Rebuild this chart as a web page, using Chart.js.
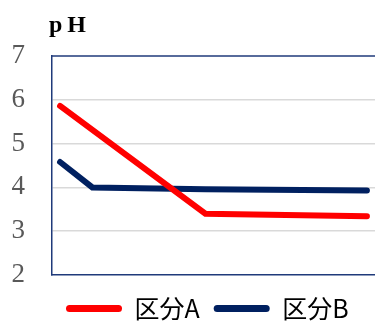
<!DOCTYPE html>
<html>
<head>
<meta charset="utf-8">
<script src="https://cdn.jsdelivr.net/npm/chart.js@4"></script>
<style>
  html, body { margin: 0; padding: 0; background: #fff; overflow: hidden; }
  #wrap { position: relative; width: 375px; height: 325px; }
  #unit {
    position: absolute; left: 49px; top: 11px;
    font: bold 24px "Liberation Serif", "DejaVu Serif", serif;
    letter-spacing: 5px; color: #000;
  }
</style>
</head>
<body>
<div id="wrap">
  <canvas id="c" width="375" height="325"></canvas>
  <div id="unit">pH</div>
</div>
<script>
// pH readings over elapsed time for each section
const seriesNames = ['区分A', '区分B'];
const timeA = [0, 9, 19];
const phA = [5.86, 3.40, 3.34];
const timeB = [0, 2, 9, 19];
const phB = [4.58, 4.00, 3.96, 3.93];
const yTicks = [2, 3, 4, 5, 6, 7];

const colorA = '#ff0000';
const colorB = '#002060';
const frameColor = '#1f3a7a';

const toPoints = (xs, ys) => xs.map((x, i) => ({ x, y: ys[i] }));

// draws the top edge of the plot frame
const topFrame = {
  id: 'topFrame',
  afterDraw(chart) {
    const { ctx, chartArea: a } = chart;
    ctx.save();
    ctx.strokeStyle = frameColor;
    ctx.lineWidth = 1.5;
    ctx.beginPath();
    ctx.moveTo(a.left, a.top);
    ctx.lineTo(a.right, a.top);
    ctx.stroke();
    ctx.restore();
  }
};

new Chart(document.getElementById('c'), {
  type: 'line',
  data: {
    datasets: [
      {
        label: seriesNames[0],
        data: toPoints(timeA, phA),
        borderColor: colorA,
        backgroundColor: colorA,
        borderWidth: 6,
        borderCapStyle: 'round',
        borderJoinStyle: 'miter',
        pointRadius: 0,
        tension: 0
      },
      {
        label: seriesNames[1],
        data: toPoints(timeB, phB),
        borderColor: colorB,
        backgroundColor: colorB,
        borderWidth: 6,
        borderCapStyle: 'round',
        borderJoinStyle: 'miter',
        pointRadius: 0,
        tension: 0
      }
    ]
  },
  options: {
    responsive: false,
    animation: false,
    layout: { padding: { left: 11, top: 56, right: 0, bottom: -6 } },
    plugins: {
      tooltip: { enabled: false },
      legend: {
        position: 'bottom',
        fullSize: false,
        align: 'start',
        labels: {
          boxWidth: 56,
          boxHeight: 7,
          padding: 14,
          color: '#595959',
          font: { family: '"Noto Sans CJK JP", sans-serif', size: 25 },
          useBorderRadius: true,
          generateLabels(chart) {
            return chart.data.datasets.map((d, i) => ({
              text: d.label,
              fillStyle: d.borderColor,
              strokeStyle: d.borderColor,
              lineWidth: 0,
              borderRadius: 3.5,
              datasetIndex: i,
              hidden: false
            }));
          }
        }
      }
    },
    scales: {
      x: {
        type: 'linear',
        min: -0.5,
        max: 19.5,
        afterFit(scale) {
          scale.height = 7;
        },
        grid: { display: false, drawTicks: false },
        border: { display: true, color: frameColor, width: 1.5 },
        ticks: { display: false }
      },
      y: {
        min: 2,
        max: 7,
        afterBuildTicks(scale) {
          scale.ticks = yTicks.map(v => ({ value: v }));
        },
        afterFit(scale) {
          scale.width = 41;
        },
        grid: {
          drawTicks: false,
          lineWidth: 1.5,
          color: ctx => (ctx.tick && (ctx.tick.value === 2 || ctx.tick.value === 7)) ? 'rgba(0,0,0,0)' : '#d9d9d9'
        },
        border: { display: true, color: frameColor, width: 1.5 },
        ticks: {
          padding: 27,
          color: '#595959',
          font: { family: '"Liberation Serif", "DejaVu Serif", serif', size: 27 }
        }
      }
    }
  },
  plugins: [topFrame]
});
</script>
</body>
</html>
